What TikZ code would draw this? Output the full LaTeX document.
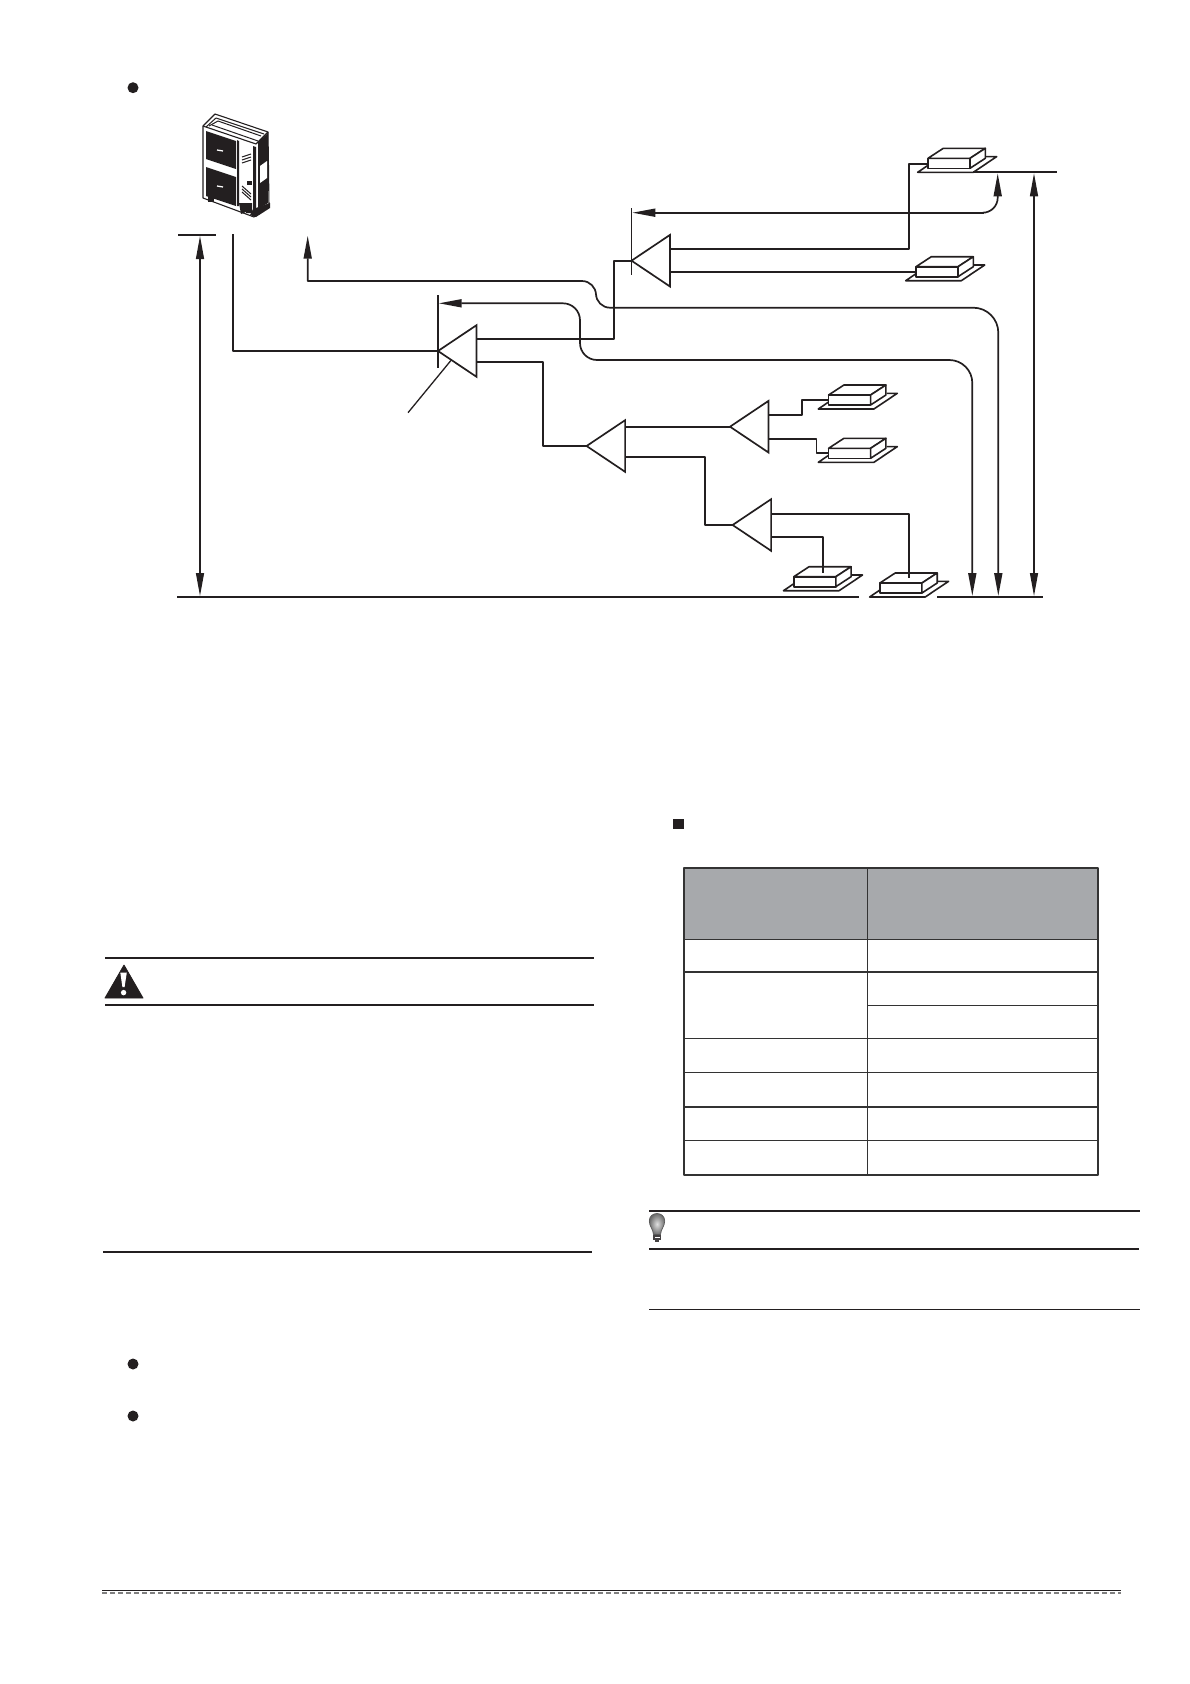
\documentclass[tikz,border=0pt]{standalone}
\usetikzlibrary{arrows.meta}
\definecolor{inkblack}{HTML}{231F20}
\definecolor{rulegrey}{HTML}{333333}
\definecolor{headgrey}{HTML}{A7A9AC}
\tikzset{
	pipe/.style={line width=1.7pt,draw=inkblack},
	thinpipe/.style={line width=1.3pt,draw=inkblack},
	pagerule/.style={line width=1.8pt,draw=inkblack},
	tablerule/.style={line width=1.5pt,draw=rulegrey},
	unitline/.style={line width=1.6pt,draw=inkblack},
	indoorunit/.pic={
		\draw [unitline] (0,-3)-- (-10.3,4)-- (45.3,4)-- (68.7,-11.7)-- (58,-11.7);
		\draw [unitline,fill=white] (0,0) rectangle (42,-10);
		\draw [unitline,fill=white] (0,-10)-- (15.3,-20)-- (57.3,-20)-- (42,-10)-- cycle;
		\draw [unitline,fill=white] (42,-10)-- (57.3,-20)-- (57.3,-10)-- (42,0)-- cycle;
	}
}
\newcommand{\branchjoint}[4]{
	\coordinate (#1) at (#2);
	\coordinate (#1-u) at ([shift={(38.5,#3)}]#1);
	\coordinate (#1-l) at ([shift={(38.5,#4)}]#1);
	\draw [pipe,line join=miter] (#1)-- ++(38.5,-25.8)-- ++(0,51.6)-- cycle;
}
\begin{document}
\begin{tikzpicture}[line cap=butt,line join=round,>={Triangle[length=23pt,width=8pt]},x=1pt,y=-1pt]
	\useasboundingbox (0,0) rectangle (1190,1684);

	% outdoor unit
	\draw [line width=1.1pt,draw=inkblack,fill=white] (203,126)-- (215,114)-- (268,132)-- (269,206)-- (254,217)-- (203,198)-- cycle;
	\draw [line width=1.1pt,draw=inkblack] (203,126)-- (256,144)-- (268,132);
	\draw [line width=1pt,draw=inkblack] (206,127)-- (216,118)-- (264,134);
	\draw [line width=1pt,draw=inkblack] (209,126)-- (218,121)-- (261,136);
	\draw [line width=1pt,draw=inkblack] (212,125)-- (258,141);
	\draw [fill=inkblack,draw=none] (206,131)-- (236,141)-- (236,169)-- (206,159)-- cycle;
	\draw [fill=inkblack,draw=none] (206,167)-- (236,177)-- (236,206)-- (206,196)-- cycle;
	\draw [fill=inkblack,draw=none] (258,142)-- (268,133)-- (268,203)-- (258,209)-- cycle;
	\draw [fill=inkblack,draw=none] (237,140)-- (239,141)-- (239,206)-- (237,206)-- cycle;
	\draw [fill=inkblack,draw=none] (253,146)-- (256,147)-- (256,212)-- (253,212)-- cycle;
	\draw [line width=1.3pt,draw=white] (217,150)-- (223,151);
	\draw [line width=1.3pt,draw=white] (217,186)-- (223,187);
	\draw [fill=white,draw=none] (260,166)-- (267,161)-- (267,178)-- (260,183)-- cycle;
	\foreach \d in {0,3,6} {
		\draw [line width=1pt,draw=inkblack] (242,157+\d)-- (251,154+\d);
		\draw [line width=1pt,draw=inkblack] (242,186+\d)-- (251,194+\d);
	}
	\draw [fill=inkblack,draw=none] (247,181) rectangle (252,185);
	\draw [fill=inkblack,draw=none] (239,203)-- (252,203)-- (252,213)-- (246,213)-- (246,212)-- (241,214)-- cycle;
	\draw [fill=inkblack,draw=none] (253,209)-- (270,203)-- (270,208)-- (256,217)-- (250,215)-- cycle;
	\draw [fill=inkblack,draw=none] (208,197) rectangle (214,202);

	% indoor units
	\pic at (928,168.3) {indoorunit};
	\pic at (916,276.7) {indoorunit};
	\pic at (828.6,405) {indoorunit};
	\pic at (828.6,458.3) {indoorunit};
	\pic at (793.8,586.7) {indoorunit};
	\pic at (879.9,593) {indoorunit};

	% branch joints
	\branchjoint{joinA}{438,351}{-12}{11}
	\branchjoint{joinB}{631.5,260.7}{-12}{11.3}
	\branchjoint{joinC}{730,426.7}{-11.7}{12}
	\branchjoint{joinD}{586.6,446}{-19.3}{10.7}
	\branchjoint{joinE}{732.6,525}{-11.3}{12}

	\coordinate (outpipe) at (233,234);
	\coordinate (kinkAB) at (614.2,339);
	\coordinate (kinkAD) at (543.3,362);
	\coordinate (kinkDE) at (704.9,456.7);
	\coordinate (feedA) at (928,163.7);
	\coordinate (feedB) at (916,272);
	\coordinate (feedC) at (828.6,400);
	\coordinate (feedD) at (828.6,453);
	\coordinate (feedE) at (822.8,573.3);
	\coordinate (feedF) at (908.9,578.3);
	\coordinate (stepC) at (801.8,415);
	\coordinate (stepD) at (816.5,438.7);

	\draw [pipe] (outpipe) |- (joinA);
	\draw [pipe] (joinA-u) -- (kinkAB) |- (joinB);
	\draw [pipe] (joinA-l) -- (kinkAD) |- (joinD);
	\draw [pipe] (joinD-u) -- (joinC);
	\draw [pipe] (joinD-l) -- (kinkDE) |- (joinE);
	\draw [pipe] (joinB-u) -| (909.3,163.7) -- (feedA);
	\draw [pipe] (joinB-l) -- (feedB);
	\draw [pipe] (joinC-u) -- (stepC) |- (feedC);
	\draw [pipe] (joinC-l) -- (stepD) |- (feedD);
	\draw [pipe] (joinE-u) -| (feedF);
	\draw [pipe] (joinE-l) -| (feedE);

	% ticks on the branch joints and the leader
	\coordinate (tickAtop) at (438,295);
	\coordinate (tickAbot) at (438,368);
	\coordinate (tickBtop) at (631.5,208);
	\coordinate (tickBbot) at (631.5,275);
	\coordinate (leadA) at (451.3,360);
	\coordinate (leadB) at (408,412.7);
	\draw [thinpipe] (tickAtop)-- (tickAbot);
	\draw [thinpipe] (tickBtop)-- (tickBbot);
	\draw [thinpipe] (leadA)-- (leadB);

	% level lines
	\draw [pipe] (178,234.7)-- (216,234.7);
	\draw [pipe] (973,172)-- (1056.7,172);
	\draw [pipe] (177.4,596.7)-- (859,596.7);
	\draw [pipe] (937,596.7)-- (1042.9,596.7);

	% length arrows
	\draw [thinpipe,<->] (200,236)-- (200,596);
	\draw [thinpipe,<->] (1034,173.3)-- (1034,596);
	\draw [pipe,->] (983,212.7) [rounded corners=15pt] -- (997.7,212.7)-- (997.7,173.3);
	\draw [pipe,->] (983.5,212.7)-- (632.3,212.7);
	\draw [pipe,<->] (307.7,235.7)-- (307.7,281)-- (570,281) [rounded corners=14pt] -- (596,281)-- (596,307.7) [rounded corners=25pt] -- (998.3,307.7)-- (998.3,596);
	\draw [pipe,<->] (438.7,303.3)-- (555,303.3) [rounded corners=17pt] -- (580,303.3)-- (580,360) [rounded corners=23pt] -- (972.3,360)-- (972.3,596);

	% bullets
	\foreach \y in {87.7,1364,1416} {
		\fill [inkblack] (133,\y) circle (5.5);
	}
	\fill [inkblack] (673.3,819) rectangle (683.5,829);

	% table
	\fill [headgrey] (684,867.6) rectangle (1098.3,939.5);
	\foreach \y in {939.5,971.8,1038.3,1072.7,1107,1140.4} {
		\draw [tablerule] (684,\y)-- (1098.3,\y);
	}
	\draw [line width=0.8pt,draw=rulegrey] (867.7,1005)-- (1098.3,1005);
	\draw [tablerule] (867.7,867.6)-- (867.7,1174.7);
	\draw [line width=1.9pt,draw=rulegrey] (684,867.6) rectangle (1098.3,1174.7);

	% caution box
	\draw [pagerule] (105,958)-- (594,958);
	\draw [pagerule] (105,1005)-- (594,1005);
	\draw [pagerule] (103,1252)-- (592,1252);
	\draw [inkblack,fill=inkblack,line width=0.8pt] (124,965)-- (143,998)-- (105,998)-- cycle;
	\fill [white] (120.3,972.5)-- (126.8,972.5)-- (124.6,987)-- (122.4,987)-- cycle;
	\fill [white] (123.6,992.6) circle (2.7);

	% tip box
	\draw [pagerule] (649,1211)-- (1140,1211);
	\draw [pagerule] (649,1249)-- (1139,1249);
	\draw [pagerule] (649,1309.5)-- (1140,1309.5);
	\draw [line width=0.7pt,draw=gray!70!black,inner color=gray!25,outer color=gray!85!black] (653.5,1234.5)
		.. controls (653,1228.5) and (649.3,1226.5) .. (649.3,1221)
		.. controls (649.3,1216) and (653,1213.5) .. (657,1213.5)
		.. controls (661,1213.5) and (664.7,1216) .. (664.7,1221)
		.. controls (664.7,1226.5) and (661,1228.5) .. (660.5,1234.5)-- cycle;
	\fill [inkblack!85] (653,1235) rectangle (661,1240);
	\fill [white] (654.5,1237) rectangle (659.5,1238.2);
	\fill [inkblack!85] (655,1240) rectangle (659,1242.3);

	% foot of the page
	\draw [line width=1.2pt,draw=inkblack] (102.4,1590.5)-- (1121,1590.5);
	\draw [line width=1.4pt,draw=gray,dash pattern=on 5pt off 3pt] (102.4,1593)-- (1121,1593);
\end{tikzpicture}
\end{document}
